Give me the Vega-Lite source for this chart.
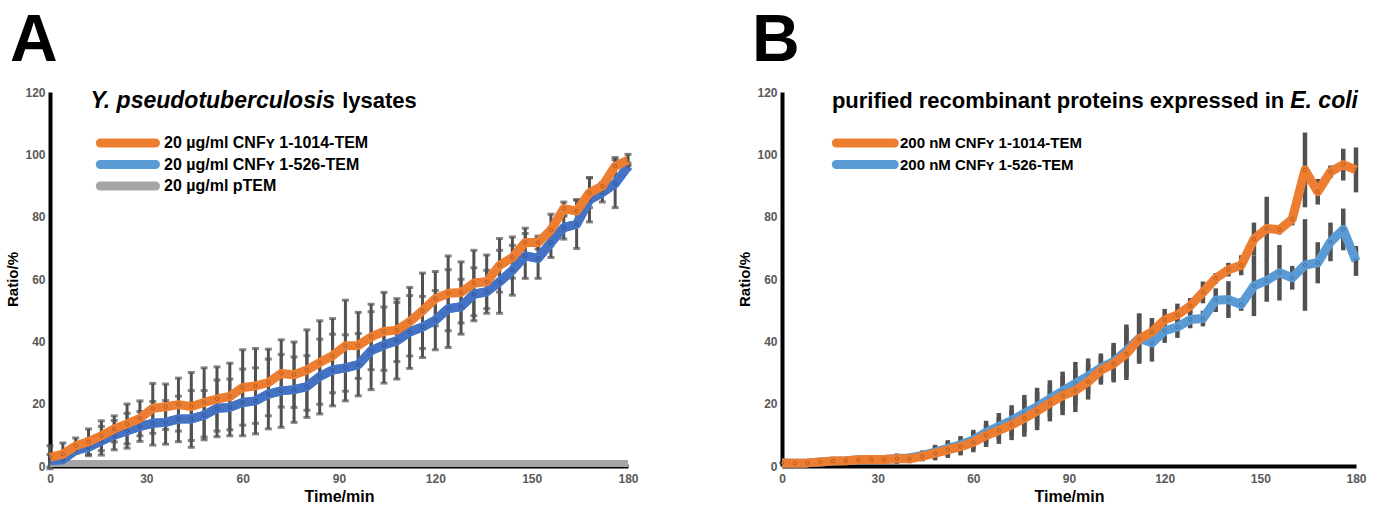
{
  "$schema": "https://vega.github.io/schema/vega-lite/v6.json",
  "background": "white",
  "padding": {"left": 5, "top": 8, "right": 0, "bottom": 0},
  "spacing": 95,
  "config": {
    "font": "Liberation Sans",
    "view": {"stroke": null},
    "axis": {"domainColor": "#000000", "domainWidth": 4, "ticks": false, "grid": false, "labelColor": "#595959", "labelFontWeight": "bold", "labelFontSize": 12, "titleFontWeight": "bold", "titleColor": "#000000"},
    "axisX": {"labelPadding": 7, "titlePadding": 4, "titleFontSize": 16, "labelFlush": false},
    "axisY": {"labelPadding": 5, "titlePadding": 4, "titleFontSize": 15, "tickCount": 6},
    "title": {"fontSize": 66, "fontWeight": "bold", "anchor": "start", "color": "#000000", "baseline": "alphabetic", "offset": 11, "frame": "group"},
    "legend": {"orient": "none", "title": null, "labelFontWeight": "bold", "labelColor": "#000000", "labelLimit": 500, "symbolSize": 64, "symbolStrokeWidth": 9, "labelOffset": 60, "clipHeight": 18, "rowPadding": 3.5}
  },
  "datasets": {
    "a": [
      {"t":0,"o":2.8,"os":3.7,"b":1.7,"bs":2.0,"g":0.8},
      {"t":4,"o":3.8,"os":3.6,"b":2.0,"bs":1.5,"g":0.8},
      {"t":8,"o":6.5,"os":2.5,"b":5.1,"bs":1.0,"g":0.8},
      {"t":12,"o":7.8,"os":4.1,"b":6.0,"bs":2.7,"g":0.8},
      {"t":16,"o":9.7,"os":4.8,"b":8.1,"bs":4.6,"g":0.8},
      {"t":20,"o":11.9,"os":4.2,"b":9.9,"bs":4.7,"g":0.8},
      {"t":24,"o":13.5,"os":6.4,"b":11.3,"bs":5.6,"g":0.8},
      {"t":28,"o":15.3,"os":5.6,"b":12.7,"bs":4.8,"g":0.8},
      {"t":32,"o":18.5,"os":8.0,"b":13.7,"bs":7.0,"g":0.8},
      {"t":36,"o":19.0,"os":7.3,"b":14.0,"bs":7.0,"g":0.8},
      {"t":40,"o":19.7,"os":8.5,"b":15.1,"bs":7.3,"g":0.8},
      {"t":44,"o":19.1,"os":10.9,"b":15.1,"bs":9.1,"g":0.8},
      {"t":48,"o":20.4,"os":11.1,"b":16.3,"bs":7.9,"g":0.8},
      {"t":52,"o":21.5,"os":10.3,"b":18.5,"bs":9.1,"g":0.8},
      {"t":56,"o":22.3,"os":10.7,"b":18.8,"bs":9.1,"g":0.8},
      {"t":60,"o":25.2,"os":12.1,"b":20.4,"bs":10.7,"g":0.8},
      {"t":64,"o":25.7,"os":12.0,"b":20.9,"bs":10.6,"g":0.8},
      {"t":68,"o":26.8,"os":10.7,"b":23.1,"bs":11.2,"g":0.8},
      {"t":72,"o":29.7,"os":10.8,"b":24.1,"bs":11.7,"g":0.8},
      {"t":76,"o":29.3,"os":10.5,"b":24.5,"bs":10.5,"g":0.8},
      {"t":80,"o":30.8,"os":12.9,"b":25.5,"bs":9.9,"g":0.8},
      {"t":84,"o":33.2,"os":13.4,"b":28.7,"bs":12.0,"g":0.8},
      {"t":88,"o":35.4,"os":11.9,"b":30.8,"bs":11.5,"g":0.8},
      {"t":92,"o":38.6,"os":14.6,"b":31.5,"bs":10.6,"g":0.8},
      {"t":96,"o":38.7,"os":10.6,"b":32.5,"bs":10.0,"g":0.8},
      {"t":100,"o":41.4,"os":10.5,"b":37.0,"bs":12.5,"g":0.8},
      {"t":104,"o":43.2,"os":12.5,"b":38.8,"bs":12.2,"g":0.8},
      {"t":108,"o":43.6,"os":10.1,"b":40.2,"bs":12.3,"g":0.8},
      {"t":112,"o":46.3,"os":11.0,"b":43.0,"bs":11.7,"g":0.8},
      {"t":116,"o":49.8,"os":12.1,"b":44.6,"bs":9.8,"g":0.8},
      {"t":120,"o":53.7,"os":8.7,"b":46.8,"bs":9.5,"g":0.8},
      {"t":124,"o":55.4,"os":12.0,"b":50.5,"bs":12.5,"g":0.8},
      {"t":128,"o":55.7,"os":9.8,"b":51.1,"bs":8.8,"g":0.8},
      {"t":132,"o":58.7,"os":10.5,"b":55.1,"bs":8.5,"g":0.8},
      {"t":136,"o":59.1,"os":8.6,"b":55.9,"bs":6.9,"g":0.8},
      {"t":140,"o":64.4,"os":8.6,"b":59.1,"bs":10.1,"g":0.8},
      {"t":144,"o":66.9,"os":6.6,"b":62.8,"bs":8.0,"g":0.8},
      {"t":148,"o":71.7,"os":4.6,"b":67.4,"bs":7.2,"g":0.8},
      {"t":152,"o":71.7,"os":2.1,"b":66.6,"bs":6.4,"g":0.8},
      {"t":156,"o":75.7,"os":5.1,"b":71.7,"bs":4.8,"g":0.8},
      {"t":160,"o":82.6,"os":2.1,"b":76.5,"bs":3.7,"g":0.8},
      {"t":164,"o":81.8,"os":3.6,"b":77.6,"bs":7.8,"g":0.8},
      {"t":168,"o":87.7,"os":4.8,"b":85.4,"bs":7.1,"g":0.8},
      {"t":172,"o":89.8,"os":1.0,"b":87.7,"bs":3.0,"g":0.8},
      {"t":176,"o":96.2,"os":2.8,"b":90.6,"bs":7.7,"g":0.8},
      {"t":180,"o":98.2,"os":1.8,"b":96.2,"bs":1.0,"g":0.8}
    ],
    "b": [
      {"t":0,"o":1.0,"os":0.4,"b":1.0,"bs":0.4},
      {"t":4,"o":0.9,"os":0.4,"b":0.9,"bs":0.4},
      {"t":8,"o":1.0,"os":0.4,"b":1.0,"bs":0.4},
      {"t":12,"o":1.3,"os":0.4,"b":1.3,"bs":0.4},
      {"t":16,"o":1.6,"os":0.4,"b":1.6,"bs":0.4},
      {"t":20,"o":1.7,"os":0.4,"b":1.7,"bs":0.4},
      {"t":24,"o":2.0,"os":0.4,"b":2.0,"bs":0.4},
      {"t":28,"o":2.1,"os":0.4,"b":2.1,"bs":0.4},
      {"t":32,"o":2.1,"os":0.4,"b":2.1,"bs":0.4},
      {"t":36,"o":2.3,"os":1.6,"b":2.4,"bs":1.6},
      {"t":40,"o":2.3,"os":1.4,"b":2.6,"bs":1.4},
      {"t":44,"o":3.1,"os":1.6,"b":3.4,"bs":1.6},
      {"t":48,"o":4.1,"os":2.3,"b":4.5,"bs":2.3},
      {"t":52,"o":5.2,"os":2.6,"b":5.7,"bs":2.6},
      {"t":56,"o":6.2,"os":2.8,"b":6.8,"bs":2.8},
      {"t":60,"o":7.6,"os":3.2,"b":8.4,"bs":3.2},
      {"t":64,"o":9.8,"os":3.7,"b":10.8,"bs":3.7},
      {"t":68,"o":11.4,"os":4.3,"b":12.7,"bs":4.3},
      {"t":72,"o":13.2,"os":4.9,"b":14.6,"bs":4.9},
      {"t":76,"o":15.3,"os":5.9,"b":16.9,"bs":5.9},
      {"t":80,"o":17.6,"os":6.1,"b":19.0,"bs":6.1},
      {"t":84,"o":20.2,"os":5.9,"b":21.6,"bs":5.9},
      {"t":88,"o":22.6,"os":6.3,"b":24.0,"bs":6.3},
      {"t":92,"o":24.2,"os":6.9,"b":26.5,"bs":6.9},
      {"t":96,"o":27.0,"os":5.7,"b":28.8,"bs":5.7},
      {"t":100,"o":30.7,"os":4.6,"b":31.5,"bs":4.6},
      {"t":104,"o":32.8,"os":6.0,"b":33.5,"bs":6.0},
      {"t":108,"o":36.0,"os":8.4,"b":37.0,"bs":8.4},
      {"t":112,"o":40.8,"os":8.0,"b":41.0,"bs":8.0},
      {"t":116,"o":43.0,"os":4.5,"b":39.5,"bs":6.0},
      {"t":120,"o":46.9,"os":3.5,"b":43.4,"bs":3.9},
      {"t":124,"o":48.5,"os":3.6,"b":44.6,"bs":3.5},
      {"t":128,"o":51.4,"os":2.5,"b":47.0,"bs":2.8},
      {"t":132,"o":55.7,"os":3.5,"b":47.3,"bs":2.5},
      {"t":136,"o":60.2,"os":1.7,"b":53.2,"bs":3.8},
      {"t":140,"o":63.0,"os":2.2,"b":53.4,"bs":5.9},
      {"t":144,"o":64.4,"os":3.2,"b":51.8,"bs":2.0},
      {"t":148,"o":72.8,"os":5.3,"b":57.8,"bs":9.7},
      {"t":152,"o":76.2,"os":10.2,"b":59.5,"bs":6.8},
      {"t":156,"o":75.8,"os":1.5,"b":62.0,"bs":8.9},
      {"t":160,"o":79.2,"os":2.0,"b":60.4,"bs":3.8},
      {"t":164,"o":95.0,"os":12.0,"b":64.5,"bs":14.7},
      {"t":168,"o":88.0,"os":4.1,"b":65.2,"bs":6.6},
      {"t":172,"o":94.4,"os":2.0,"b":71.9,"bs":6.2},
      {"t":176,"o":96.7,"os":5.1,"b":75.9,"bs":6.7},
      {"t":180,"o":95.0,"os":7.2,"b":65.8,"bs":4.8}
    ]
  },
  "resolve": {"scale": {"color": "independent"}, "legend": {"color": "independent"}},
  "hconcat": [
    {
      "width": 578,
      "height": 374,
      "title": {"text": "A", "dx": -40},
      "data": {"name": "a"},
      "encoding": {
        "x": {"field": "t", "type": "quantitative", "title": "Time/min", "scale": {"domain": [0, 180], "nice": false}, "axis": {"values": [0, 30, 60, 90, 120, 150, 180]}}
      },
      "layer": [
        {"mark": {"type": "errorbar", "color": "#515151", "thickness": 3, "ticks": {"size": 7}}, "encoding": {"y": {"field": "o", "type": "quantitative", "title": "Ratio/%", "scale": {"domain": [0, 120]}}, "yError": {"field": "os"}}},
        {"mark": {"type": "errorbar", "color": "#515151", "thickness": 3, "ticks": {"size": 7}}, "encoding": {"y": {"field": "b", "type": "quantitative", "title": "Ratio/%"}, "yError": {"field": "bs"}}},
        {"mark": {"type": "line", "strokeWidth": 7, "strokeCap": "butt"}, "encoding": {"y": {"field": "g", "type": "quantitative", "title": "Ratio/%"}, "color": {"datum": "20 µg/ml pTEM", "scale": {"domain": ["20 µg/ml CNFʏ 1-1014-TEM", "20 µg/ml CNFʏ 1-526-TEM", "20 µg/ml pTEM"], "range": ["#ED7D31", "#5B9BD5", "#A5A5A5"]}, "legend": {"legendX": 37, "legendY": 42, "labelFontSize": 16, "symbolType": "M1.2,0H15", "encode": {"symbols": {"update": {"strokeCap": {"value": "round"}}}}}}}},
        {"mark": {"type": "line", "strokeWidth": 9, "strokeJoin": "round"}, "encoding": {"y": {"field": "b", "type": "quantitative", "title": "Ratio/%"}, "color": {"datum": "20 µg/ml CNFʏ 1-526-TEM"}}},
        {"mark": {"type": "line", "strokeWidth": 9, "strokeJoin": "round", "color": "#4472C4"}, "encoding": {"y": {"field": "b", "type": "quantitative", "title": "Ratio/%"}}},
        {"mark": {"type": "point", "filled": false, "size": 12, "stroke": "#000000", "strokeOpacity": 0.3, "strokeWidth": 1}, "encoding": {"y": {"field": "b", "type": "quantitative", "title": "Ratio/%"}}},
        {"mark": {"type": "line", "strokeWidth": 9, "strokeJoin": "round"}, "encoding": {"y": {"field": "o", "type": "quantitative", "title": "Ratio/%"}, "color": {"datum": "20 µg/ml CNFʏ 1-1014-TEM"}}},
        {"mark": {"type": "point", "filled": false, "size": 12, "stroke": "#000000", "strokeOpacity": 0.3, "strokeWidth": 1}, "encoding": {"y": {"field": "o", "type": "quantitative", "title": "Ratio/%"}}},
        {"transform": [{"filter": "datum.t == 0"}], "mark": {"type": "text", "align": "right", "baseline": "alphabetic", "fontStyle": "italic", "fontWeight": "bold", "fontSize": 23, "fill": "#000000"}, "encoding": {"x": {"datum": 88.8, "type": "quantitative"}, "y": {"datum": 115, "type": "quantitative"}, "text": {"value": "Y. pseudotuberculosis"}}},
        {"transform": [{"filter": "datum.t == 0"}], "mark": {"type": "text", "align": "left", "baseline": "alphabetic", "fontWeight": "bold", "fontSize": 22, "dx": 7, "fill": "#000000"}, "encoding": {"x": {"datum": 88.8, "type": "quantitative"}, "y": {"datum": 115, "type": "quantitative"}, "text": {"value": "lysates"}}}
      ]
    },
    {
      "width": 574,
      "height": 374,
      "title": {"text": "B", "dx": -30},
      "data": {"name": "b"},
      "encoding": {
        "x": {"field": "t", "type": "quantitative", "title": "Time/min", "scale": {"domain": [0, 180], "nice": false}, "axis": {"values": [0, 30, 60, 90, 120, 150, 180]}}
      },
      "layer": [
        {"mark": {"type": "errorbar", "color": "#515151", "thickness": 4.5}, "encoding": {"y": {"field": "o", "type": "quantitative", "title": "Ratio/%", "scale": {"domain": [0, 120]}}, "yError": {"field": "os"}}},
        {"mark": {"type": "errorbar", "color": "#515151", "thickness": 4.5}, "encoding": {"y": {"field": "b", "type": "quantitative", "title": "Ratio/%"}, "yError": {"field": "bs"}}},
        {"mark": {"type": "line", "strokeWidth": 9, "strokeJoin": "round"}, "encoding": {"y": {"field": "b", "type": "quantitative", "title": "Ratio/%"}, "color": {"datum": "200 nM CNFʏ 1-526-TEM", "scale": {"domain": ["200 nM CNFʏ 1-1014-TEM", "200 nM CNFʏ 1-526-TEM"], "range": ["#ED7D31", "#5B9BD5"]}, "legend": {"legendX": 41, "legendY": 42, "labelFontSize": 15, "symbolType": "M1.2,0H15.7", "encode": {"symbols": {"update": {"strokeCap": {"value": "round"}}}}}}}},
        {"mark": {"type": "point", "filled": false, "size": 12, "stroke": "#000000", "strokeOpacity": 0.3, "strokeWidth": 1}, "encoding": {"y": {"field": "b", "type": "quantitative", "title": "Ratio/%"}}},
        {"mark": {"type": "line", "strokeWidth": 9, "strokeJoin": "round"}, "encoding": {"y": {"field": "o", "type": "quantitative", "title": "Ratio/%"}, "color": {"datum": "200 nM CNFʏ 1-1014-TEM"}}},
        {"mark": {"type": "point", "filled": false, "size": 12, "stroke": "#000000", "strokeOpacity": 0.3, "strokeWidth": 1}, "encoding": {"y": {"field": "o", "type": "quantitative", "title": "Ratio/%"}}},
        {"transform": [{"filter": "datum.t == 0"}], "mark": {"type": "text", "align": "right", "baseline": "alphabetic", "fontWeight": "bold", "fontSize": 22, "fill": "#000000"}, "encoding": {"x": {"datum": 157.5, "type": "quantitative"}, "y": {"datum": 115, "type": "quantitative"}, "text": {"value": "purified recombinant proteins expressed in"}}},
        {"transform": [{"filter": "datum.t == 0"}], "mark": {"type": "text", "align": "left", "baseline": "alphabetic", "fontStyle": "italic", "fontWeight": "bold", "fontSize": 23, "dx": 6, "fill": "#000000"}, "encoding": {"x": {"datum": 157.5, "type": "quantitative"}, "y": {"datum": 115, "type": "quantitative"}, "text": {"value": "E. coli"}}}
      ]
    }
  ]
}
